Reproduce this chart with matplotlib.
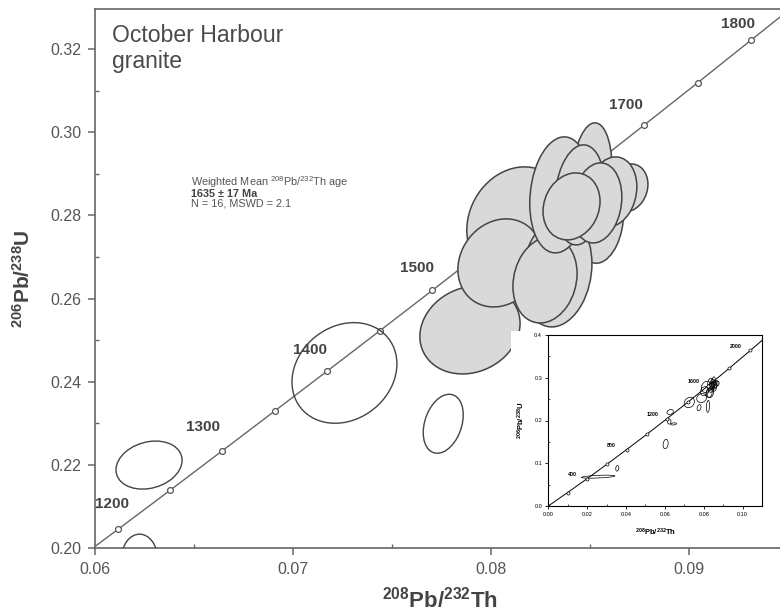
import numpy as np
import matplotlib
matplotlib.use("Agg")
import matplotlib.pyplot as plt
from matplotlib.patches import Circle
from matplotlib.transforms import Affine2D

plt.rcParams['font.family'] = ['Liberation Sans', 'DejaVu Sans']
plt.rcParams['mathtext.fontset'] = 'custom'
plt.rcParams['mathtext.rm'] = 'Liberation Sans'
plt.rcParams['mathtext.it'] = 'Liberation Sans:italic'
plt.rcParams['mathtext.bf'] = 'Liberation Sans:bold'

# concordia points (Ma, 208Pb/232Th, 206Pb/238U), main plot: every 50 Ma
conc_age = [1150, 1200, 1250, 1300, 1350, 1400, 1450, 1500,
            1550, 1600, 1650, 1700, 1750, 1800, 1850]
conc_pbth = [0.05855, 0.06117, 0.06380, 0.06643, 0.06907, 0.07172, 0.07438, 0.07704,
             0.07970, 0.08238, 0.08506, 0.08775, 0.09044, 0.09314, 0.09585]
conc_pbu = [0.19530, 0.20459, 0.21397, 0.22343, 0.23297, 0.24256, 0.25225, 0.26199,
            0.27183, 0.28174, 0.29168, 0.30175, 0.31187, 0.32213, 0.33240]
conc_labels = [1200, 1300, 1400, 1500, 1700, 1800]

# inset concordia, every 200 Ma
ins_age = [0, 200, 400, 600, 800, 1000, 1200, 1400, 1600, 1800, 2000]
ins_pbth = [0.0, 0.00994, 0.01999, 0.03013, 0.04036, 0.05072,
            0.06117, 0.07172, 0.08238, 0.09314, 0.10400]
ins_pbu = [0.0, 0.03151, 0.06402, 0.09754, 0.13213, 0.16780,
           0.20459, 0.24256, 0.28174, 0.32213, 0.36377]
ins_labels = [400, 800, 1200, 1600, 2000]

# error ellipses: centre, half-widths, correlation, used in weighted mean
ell_x = [0.02570, 0.03550, 0.06040, 0.06450, 0.08220,
         0.06273, 0.06225, 0.07260, 0.07759,
         0.08380, 0.08550,
         0.08131, 0.07894, 0.08045, 0.08333, 0.08273,
         0.08510, 0.08348, 0.08449, 0.08692, 0.08611, 0.08535, 0.08407]
ell_y = [0.06860, 0.08810, 0.14500, 0.19200, 0.23300,
         0.22000, 0.19750, 0.24214, 0.22993,
         0.27700, 0.27900,
         0.27844, 0.25248, 0.26858, 0.26642, 0.26449,
         0.28974, 0.28493, 0.28493, 0.28661, 0.28565, 0.28300, 0.28216]
ell_sx = [0.00860, 0.00080, 0.00130, 0.00150, 0.00080,
          0.00167, 0.00091, 0.00265, 0.00101,
          0.00160, 0.00120,
          0.00253, 0.00253, 0.00212, 0.00177, 0.00162,
          0.00101, 0.00152, 0.00126, 0.00101, 0.00126, 0.00126, 0.00144]
ell_sy = [0.00350, 0.00650, 0.01100, 0.00250, 0.01400,
          0.00577, 0.00590, 0.01209, 0.00709,
          0.01100, 0.01050,
          0.01322, 0.01058, 0.01058, 0.01322, 0.01034,
          0.01250, 0.01394, 0.01202, 0.00577, 0.00841, 0.00962, 0.00805]
ell_rho = [0.5, 0.2, 0.2, 0.3, 0.2,
           0.2, 0.0, 0.18, 0.3,
           0.15, 0.15,
           0.15, 0.15, 0.15, 0.15, 0.15,
           0.15, 0.15, 0.15, 0.15, 0.15, 0.15, 0.15]
ell_used = [False] * 9 + [True] * 14

label_offsets = {1200: (-6, 25), 1300: (-19, 24), 1400: (-17, 21),
                 1500: (-15, 22), 1700: (-18, 20), 1800: (-13, 16)}
ins_label_offsets = (-15, 4)


def add_ellipse(ax, cx, cy, sx, sy, rho, **kw):
    # unit circle mapped onto the error ellipse in data space
    tr = Affine2D.from_values(sx, sy * rho, 0, sy * np.sqrt(1 - rho ** 2), cx, cy)
    circ = Circle((0, 0), 1, transform=tr + ax.transData, **kw)
    ax.add_patch(circ)


fig = plt.figure(figsize=(7.8, 6.16), dpi=100)
ax = fig.add_axes([95 / 780, 67.7 / 616, 685 / 780, 539.3 / 616])

ax.plot(conc_pbth, conc_pbu, color='#666666', lw=1.0, zorder=2)
ax.plot(conc_pbth, conc_pbu, 'o', ms=4.2, mfc='white', mec='#555555', mew=0.9, zorder=3)
for age, x, y in zip(conc_age, conc_pbth, conc_pbu):
    if age in conc_labels:
        ax.annotate(str(age), (x, y), xytext=label_offsets[age], textcoords='offset pixels',
                    ha='center', va='center', fontsize=11, fontweight='bold',
                    color='#444444', annotation_clip=False, clip_on=True)

for i in range(len(ell_x)):
    if ell_used[i]:
        add_ellipse(ax, ell_x[i], ell_y[i], ell_sx[i], ell_sy[i], ell_rho[i],
                    facecolor='#d9d9d9', edgecolor='#444444', lw=1.1, zorder=4)
    else:
        add_ellipse(ax, ell_x[i], ell_y[i], ell_sx[i], ell_sy[i], ell_rho[i],
                    facecolor='none', edgecolor='#444444', lw=1.0, zorder=4)

ax.set_xlim(0.06, 0.0946)
ax.set_ylim(0.2, 0.3296)
ax.set_xticks([0.06, 0.07, 0.08, 0.09])
ax.set_xticks([0.065, 0.075, 0.085], minor=True)
ax.set_yticks([0.20, 0.22, 0.24, 0.26, 0.28, 0.30, 0.32])
ax.set_yticks([0.21, 0.23, 0.25, 0.27, 0.29, 0.31], minor=True)
ax.set_xticklabels(['0.06', '0.07', '0.08', '0.09'])
ax.set_yticklabels(['0.20', '0.22', '0.24', '0.26', '0.28', '0.30', '0.32'])
ax.tick_params(which='major', direction='out', length=5, width=1.1, color='#666666',
               labelsize=11.5, labelcolor='#555555', pad=5)
ax.tick_params(which='minor', direction='in', length=3, width=1.0, color='#666666')
for s in ['left', 'bottom', 'top']:
    ax.spines[s].set_color('#666666')
    ax.spines[s].set_linewidth(1.2)
ax.spines['right'].set_visible(False)

fig.text(111.7 / 780, 1 - 41.7 / 616, 'October Harbour', fontsize=16.6, color='#4a4a4a')
fig.text(111.7 / 780, 1 - 68.4 / 616, 'granite', fontsize=16.6, color='#4a4a4a')

fig.text(190.7 / 780, 1 - 185.5 / 616, r'Weighted Mean $^{208}$Pb/$^{232}$Th age',
         fontsize=7.8, color='#555555')
fig.text(190.7 / 780, 1 - 196.5 / 616, '1635 ± 17 Ma', fontsize=7.8,
         fontweight='bold', color='#444444')
fig.text(190.7 / 780, 1 - 207.0 / 616, 'N = 16, MSWD = 2.1', fontsize=7.8, color='#555555')

fig.text(440 / 780, 1 - 600 / 616, r'$\mathbf{^{208}Pb/^{232}Th}$', fontsize=16,
         color='#444444', ha='center', va='center')
fig.text(23 / 780, 1 - 279 / 616, r'$\mathbf{^{206}Pb/^{238}U}$', fontsize=15,
         color='#444444', ha='center', va='center', rotation=90)

# inset: white backing plus full concordia view
bg = fig.add_axes([511 / 780, 1 - 543 / 616, 265 / 780, 212 / 616])
bg.set_facecolor('white')
bg.set_xticks([])
bg.set_yticks([])
for s in bg.spines.values():
    s.set_visible(False)

ins = fig.add_axes([548.3 / 780, 110 / 616, 213.7 / 780, 171 / 616])
ins.plot(ins_pbth + [0.11499], ins_pbu + [0.40675], color='black', lw=0.7)
ins.plot(ins_pbth, ins_pbu, 'o', ms=2.2, mfc='white', mec='black', mew=0.5)
for age, x, y in zip(ins_age, ins_pbth, ins_pbu):
    if age in ins_labels:
        ins.annotate(str(age), (x, y), xytext=ins_label_offsets, textcoords='offset pixels',
                     ha='center', va='center', fontsize=3.8, fontweight='bold')
for i in range(len(ell_x)):
    add_ellipse(ins, ell_x[i], ell_y[i], ell_sx[i], ell_sy[i], ell_rho[i],
                facecolor='none', edgecolor='black', lw=0.5)
ins.set_xlim(0, 0.11)
ins.set_ylim(0, 0.4)
ins.set_xticks([0.0, 0.02, 0.04, 0.06, 0.08, 0.10])
ins.set_xticklabels(['0.00', '0.02', '0.04', '0.06', '0.08', '0.10'])
ins.set_yticks([0.0, 0.1, 0.2, 0.3, 0.4])
ins.set_yticklabels(['0.0', '0.1', '0.2', '0.3', '0.4'])
ins.set_xticks([0.01, 0.03, 0.05, 0.07, 0.09], minor=True)
ins.set_yticks([0.05, 0.15, 0.25, 0.35], minor=True)
ins.tick_params(which='major', direction='out', length=2, width=0.6, labelsize=4, pad=2.5)
ins.tick_params(which='minor', direction='in', length=1.5, width=0.5)
for s in ins.spines.values():
    s.set_linewidth(0.8)
ins.set_xlabel(r'$\mathbf{^{208}Pb/^{232}Th}$', fontsize=5.5, labelpad=7)
ins.set_ylabel(r'$\mathbf{^{206}Pb/^{238}U}$', fontsize=5.5, labelpad=5)

fig.savefig('out.png', dpi=100)
